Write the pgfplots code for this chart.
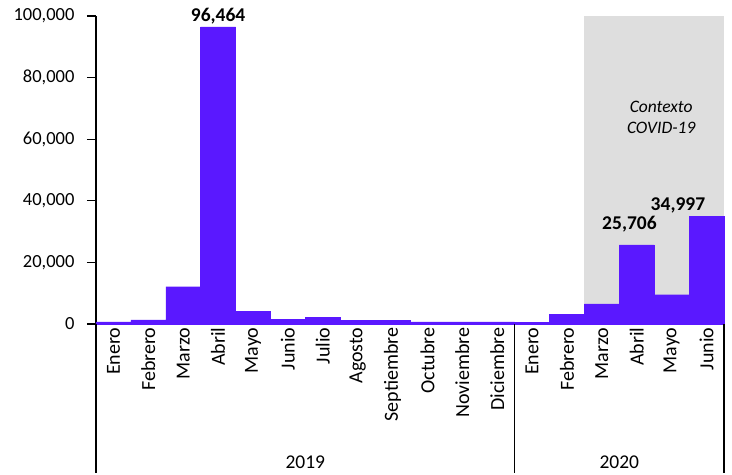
\documentclass[border=0pt]{standalone}
\usepackage{pgfplots}
\pgfplotsset{compat=1.18}
\usepackage{fontspec}
\setmainfont{Carlito}
\definecolor{barc}{RGB}{90,24,255}
\definecolor{covid}{RGB}{222,222,222}
\begin{document}
\begin{tikzpicture}
\begin{axis}[
  scale only axis, width=628bp, height=308bp,
  xmin=0, xmax=18, ymin=0, ymax=100000,
  axis x line*=bottom, axis y line*=left,
  axis line style={black, line width=2.2bp},
  ytick={0,20000,40000,60000,80000,100000},
  scaled y ticks=false,
  /pgf/number format/.cd, fixed, 1000 sep={,}, assume math mode=true, /pgfplots/.cd,
  yticklabel style={font=\fontsize{18.5bp}{20bp}\selectfont, xshift=-9bp},
  y tick style={black, line width=1.2bp},
  tick align=outside, major tick length=9bp,
  xtick={0.5,1.5,2.5,3.5,4.5,5.5,6.5,7.5,8.5,9.5,10.5,11.5,12.5,13.5,14.5,15.5,16.5,17.5},
  xticklabels={Enero,Febrero,Marzo,Abril,Mayo,Junio,Julio,Agosto,Septiembre,Octubre,Noviembre,Diciembre,Enero,Febrero,Marzo,Abril,Mayo,Junio},
  xticklabel style={rotate=90, anchor=east, font=\fontsize{20bp}{21bp}\selectfont},
  xticklabel shift={-9bp},
  x tick style={draw=none},
  clip=false,
]
\fill[covid] (axis cs:14,0) rectangle (axis cs:18,100000);
\addplot[const plot, fill=barc, draw=barc] coordinates {
(0,700)(1,1300)(2,12100)(3,96464)(4,4200)(5,1600)(6,2200)(7,1100)(8,1100)(9,700)(10,700)(11,700)
(12,600)(13,3200)(14,6500)(15,25706)(16,9500)(17,34997)(18,34997)} \closedcycle;
\node[anchor=base, inner sep=0, yshift=5bp, font=\fontsize{19.5bp}{21bp}\selectfont\bfseries] at (axis cs:3.5,96464) {96,464};
\node[anchor=base, inner sep=0, yshift=15bp, font=\fontsize{19.5bp}{21bp}\selectfont\bfseries] at (axis cs:15.29,25706) {25,706};
\node[anchor=base, inner sep=0, yshift=6bp, font=\fontsize{19.5bp}{21bp}\selectfont\bfseries] at (axis cs:16.68,34997) {34,997};
\node[align=center, font=\fontsize{17.5bp}{21bp}\selectfont\itshape] at (axis cs:16.2,67050) {Contexto\\COVID-19};
\draw[black, line width=2.2bp] (axis cs:0,0) -- ++(0,-149bp);
\draw[black, line width=1.3bp] (axis cs:12,0) -- ++(0,-149bp);
\draw[black, line width=1.3bp] (axis cs:18,0) -- ++(0,-149bp);
\node[font=\fontsize{19.5bp}{21bp}\selectfont] at ([yshift=-138bp]axis cs:6,0) {2019};
\node[font=\fontsize{19.5bp}{21bp}\selectfont] at ([yshift=-138bp]axis cs:15,0) {2020};
\end{axis}
\path (-96bp,-149bp) rectangle (636bp,324bp);
\end{tikzpicture}
\end{document}
